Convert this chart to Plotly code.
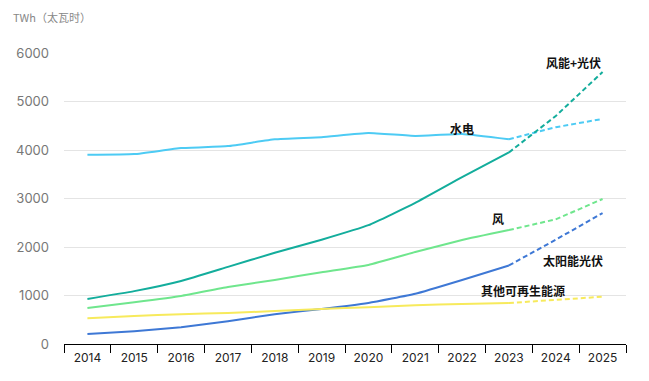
import plotly.graph_objects as go

years = ["2014", "2015", "2016", "2017", "2018", "2019", "2020", "2021", "2022", "2023", "2024", "2025"]
hydro = [3900, 3915, 4040, 4080, 4220, 4265, 4350, 4290, 4330, 4220, 4470, 4640]
wind_solar = [930, 1090, 1300, 1590, 1880, 2150, 2450, 2910, 3440, 3950, 4700, 5610]
wind = [740, 860, 990, 1175, 1320, 1480, 1630, 1895, 2145, 2350, 2570, 2990]
solar = [205, 265, 345, 470, 615, 720, 845, 1035, 1320, 1620, 2150, 2700]
other = [530, 575, 615, 640, 680, 720, 760, 800, 825, 845, 905, 975]

series = [
    ("水电", hydro, "#4dcbf4"),
    ("风能+光伏", wind_solar, "#13ad9c"),
    ("风", wind, "#6fe68d"),
    ("太阳能光伏", solar, "#3e78d5"),
    ("其他可再生能源", other, "#f7ea5c"),
]

split = years.index("2023")
fig = go.Figure()
for name, vals, color in series:
    fig.add_trace(go.Scatter(x=years[:split + 1], y=vals[:split + 1], mode="lines",
                             line=dict(color=color, width=2, shape="spline", smoothing=0.4),
                             name=name, showlegend=False, hoverinfo="x+y"))
    fig.add_trace(go.Scatter(x=years[split:], y=vals[split:], mode="lines",
                             line=dict(color=color, width=2, dash="5px,3px"),
                             name=name, showlegend=False, hoverinfo="x+y"))

labels = [
    ("风能+光伏", 10.38, 5810),
    ("水电", 7.99, 4450),
    ("风", 8.76, 2580),
    ("太阳能光伏", 10.36, 1730),
    ("其他可再生能源", 9.31, 1110),
]
for text, xi, yv in labels:
    fig.add_annotation(x=xi, y=yv, xref="x", yref="y", text="<b>" + text + "</b>", showarrow=False,
                       font=dict(size=12, color="#111", family="Noto Sans CJK SC"),
                       xanchor="center", yanchor="middle")

fig.add_annotation(x=0, y=1, xref="paper", yref="paper", text="TWh（太瓦时）", showarrow=False,
                   xshift=-53, yshift=36, xanchor="left", yanchor="middle",
                   font=dict(size=11, color="#888", family="Noto Sans CJK SC"))

# the page body has an 8px margin, compensated here
fig.update_layout(
    width=649, height=381,
    margin=dict(l=56, r=31, t=45, b=45, autoexpand=False),
    plot_bgcolor="white", paper_bgcolor="white",
    font=dict(family="Inter, Noto Sans CJK SC", size=12),
    xaxis=dict(type="category", range=[-0.5, 11.5], tickson="boundaries",
               ticks="outside", ticklen=8, tickcolor="#000", showline=True,
               linecolor="#000", linewidth=1, showgrid=False, automargin=False,
               ticklabelstandoff=3,
               tickfont=dict(size=12, color="#222")),
    yaxis=dict(range=[0, 6000], tickvals=[0, 1000, 2000, 3000, 4000, 5000, 6000],
               showgrid=True, gridcolor="#e4e4e4", zeroline=False, showline=False,
               ticks="", ticklabelstandoff=14, automargin=False,
               tickfont=dict(size=13, color="#777")),
)

fig.write_html("out.html")
